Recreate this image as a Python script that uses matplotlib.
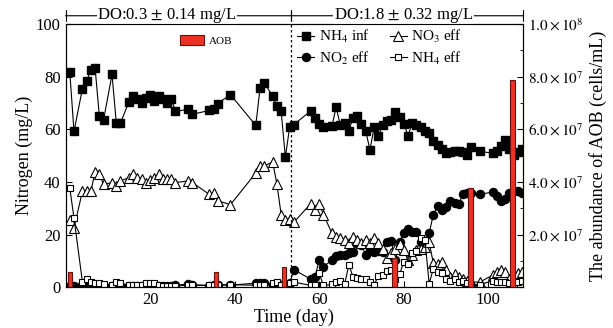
import matplotlib
matplotlib.use("Agg")
import matplotlib.pyplot as plt
from matplotlib.ticker import FuncFormatter, MultipleLocator

plt.rcParams["font.family"] = ["Liberation Serif", "DejaVu Serif"]
plt.rcParams["mathtext.fontset"] = "stix"

# sampling days (period 1: low DO, period 2: high DO)
days = [1, 2, 4, 5, 6, 7, 8, 9, 11, 12, 13, 15, 16, 17, 18, 19, 20, 21, 22, 23, 24, 25, 26,
        29, 30, 34, 35, 36, 39, 45, 46, 47, 49, 50, 51, 52, 53, 54,
        58, 59, 60, 61, 63, 64, 65, 66, 67, 68, 69, 70, 71, 72, 73, 74, 75, 76, 77, 78, 79,
        80, 81, 82, 83, 84, 85, 86, 87, 88, 89, 90, 91, 92, 93, 94, 95, 96, 98,
        101, 102, 103, 104, 105, 106, 107, 108]

nh4_inf = [81.9, 59.2, 75.5, 78.3, 82.6, 83.2, 65, 63.6, 80.9, 62.5, 62.5, 70.4, 72.7, 71.7, 70.1,
           71.9, 73.2, 70.7, 72.7, 71.7, 70.1, 71.7, 66.8, 67.6, 65.7, 67.2, 67.6, 69.8, 73.2,
           61.5, 75.6, 77.7, 72.6, 68.7, 66.8, 49.4, 60.9, 61.8,
           67, 64.3, 62.1, 60.9, 61.1, 68.5, 61.5, 62.5, 59.4, 64.5, 65.1, 62.1, 59.4, 52.2,
           60.9, 57.6, 61.5, 63, 63.6, 66.6, 64.7, 62.2, 57.6, 62.5, 61.5, 60.9, 59.2, 58.5,
           55.7, 54.2, 52.5, 51, 51.3, 51.9, 51.9, 51.3, 50.4, 53.4, 51.6, 51, 51.9, 53.8,
           56.1, 52.5, 50.4, 51.3, 52.5]

no2_eff = [0.5, 0.5, 0.8, 0.6, 0.5, 0.5, 0.4, 0.4, 0.5, 0.6, 0.5, 0.4, 0.4, 0.5, 0.5, 0.6,
           0.5, 0.6, 0.5, 0.4, 0.5, 0.6, 0.7, 1.3, 1.0, 0.6, 0.8, 0.9, 0.8, 1.6, 1.6, 1.5,
           1.0, 1.2, 1.0, 1.2, 1.5, 6.7,
           3.1, 4.0, 10.4, 7.8, 10.4, 11.9, 12.2, 12.2, 13, 13.6, 16.7, 16.1, 12.2, 14.2, 13.6,
           13.8, 13.3, 17.3, 17.6, 10.3, 17.3, 20.6, 22.2, 21.2, 21, 17.3, 16.7, 20.6, 27.6,
           30.8, 29.5, 30.6, 32.7, 32.1, 31.8, 35.3, 35.7, 35.7, 35.3, 36.2, 34.7, 32.7, 33.7,
           35.7, 36.5, 36.7, 35.7]

no3_eff = [25.4, 22.5, 36.5, 36.5, 36.5, 43.9, 42.9, 39.1, 39.8, 38.5, 40.4, 41.7, 42.9, 41.7,
           41.3, 39.8, 40.6, 41.7, 42.9, 41.3, 41.3, 41.3, 39.8, 40.4, 39.8, 35.3, 36, 32.9, 31.4,
           43.4, 46.1, 46.1, 47.6, 39.1, 27.6, 25.7, 26.1, 24.7,
           31.8, 29.3, 31.8, 27.6, 20.6, 19.3, 18.7, 18.1, 16.7, 19.1, 18.1, 17, 18.1, 16.7,
           18.7, 16.7, 14.6, 11, 13, 14.6, 16.3, 14.2, 10.4, 12.2, 14.2, 14.6, 15.5, 17.1, 9.1,
           8.7, 9.7, 6.5, 4.0, 4.9, 4.0, 3.1, 2.5, 2.0, 2.0, 4.6, 5.9, 6.5, 5.9, 3.1, 4.0, 5.3, 5.9]

nh4_eff = [37.8, 26.3, 2.0, 3.3, 2.0, 1.5, 1.5, 1.2, 0.8, 2.0, 1.5, 0.8, 0.8, 0.8, 1.0, 1.5,
           1.5, 1.5, 0.8, 0.6, 0.6, 0.6, 0.6, 0.8, 0.8, 0.8, 0.8, 1.0, 1.0, 0.8, 0.8, 1.0,
           1.8, 2.0, 1.0, 1.0, 1.5, 2.0,
           0.7, 0.7, 5.3, 0.7, 1.1, 1.9, 2.5, 1.1, 8.5, 4.0, 3.4, 3.1, 3.1, 2.0, 1.0, 4.4, 4.7,
           6.2, 6.5, 3.1, 4.9, 9.7, 8.7, 13, 13.8, 18.7, 18.1, 1.4, 7.1, 5.9, 5.3, 3.1, 2.5,
           3.1, 2.0, 2.5, 1.5, 1.0, 1.0, 2.5, 2.0, 2.0, 2.0, 1.5, 1.0, 2.0, 2.5]

aob_days = [1, 35.6, 51.6, 77.8, 95.8, 105.7]
aob_cells = [5.9e6, 5.9e6, 7.8e6, 1.1e7, 3.77e7, 7.86e7]

do_split = 53.3
do_labels = [r"DO:0.3 $\pm$ 0.14 mg/L", r"DO:1.8 $\pm$ 0.32 mg/L"]
do_text_x = [24, 80]

fig = plt.figure(figsize=(6.13, 3.28), dpi=100)
ax = fig.add_axes([0.1069, 0.124, 0.7463, 0.8027])

lw = 0.8
ax.plot(days, nh4_inf, "-s", color="k", mfc="k", ms=5.3, lw=lw, label=r"NH$_4$ inf")
ax.plot(days, no2_eff, "-o", color="k", mfc="k", ms=5.8, lw=lw, label=r"NO$_2$ eff")
ax.plot(days, no3_eff, "-^", color="k", mfc="white", ms=7, mew=0.8, lw=lw, label=r"NO$_3$ eff")
ax.plot(days, nh4_eff, "-s", color="k", mfc="white", ms=5, mew=0.8, lw=lw, label=r"NH$_4$ eff")

ax.axvline(do_split, color="k", ls=(0, (2, 2)), lw=0.9)

ax.set_xlim(0, 108.2)
ax.set_ylim(0, 100)
ax.set_xticks([20, 40, 60, 80, 100])
ax.yaxis.set_major_locator(MultipleLocator(20))
ax.tick_params(direction="in", labelsize=12, length=4)
ax.set_xlabel("Time (day)", fontsize=13, labelpad=0)
ax.set_ylabel("Nitrogen (mg/L)", fontsize=13, labelpad=2)

ax.legend(loc="upper left", bbox_to_anchor=(0.507, 0.985), ncol=2, frameon=False,
          fontsize=11, handlelength=1.1, handletextpad=0.3, columnspacing=1.3,
          labelspacing=0.3, borderaxespad=0, borderpad=0)

# AOB on right axis
ax2 = ax.twinx()
ax2.bar(aob_days, aob_cells, width=1.0, color="#ec3323", edgecolor="#6a1010", lw=0.8, label="AOB")
ax2.set_ylim(0, 1e8)
ax2.yaxis.set_major_locator(MultipleLocator(2e7))
ax2.yaxis.set_minor_locator(MultipleLocator(1e7))


def sci(v, pos):
    if v <= 0:
        return ""
    e = len(str(int(round(v)))) - 1
    return r"$%.1f\times 10^{%d}$" % (v / 10 ** e, e)


ax2.yaxis.set_major_formatter(FuncFormatter(sci))
ax2.tick_params(direction="in", labelsize=11, length=4)
ax2.tick_params(which="minor", direction="in", length=2)
ax2.set_ylabel("The abundance of AOB (cells/mL)", fontsize=13, labelpad=4)
ax2.legend(loc="upper left", bbox_to_anchor=(0.25, 0.958), frameon=False, fontsize=8,
           handlelength=2.2, handleheight=1.0, handletextpad=0.4, borderaxespad=0, borderpad=0)

# DO brackets above the plot
for (x0, x1), txt, tx in zip([(0, do_split), (do_split, 108.2)], do_labels, do_text_x):
    ax.annotate("", xy=(x0, 1.0315), xytext=(x1, 1.0315), xycoords=("data", "axes fraction"),
                arrowprops=dict(arrowstyle="|-|, widthA=0.4, widthB=0.4", lw=0.8, color="k",
                                shrinkA=0, shrinkB=0), annotation_clip=False)
    ax.text(tx, 1.0315, txt, transform=ax.get_xaxis_transform(), ha="center",
            va="center", fontsize=12, bbox=dict(fc="white", ec="none", pad=0.5), clip_on=False)

fig.savefig("out.png", dpi=100)
